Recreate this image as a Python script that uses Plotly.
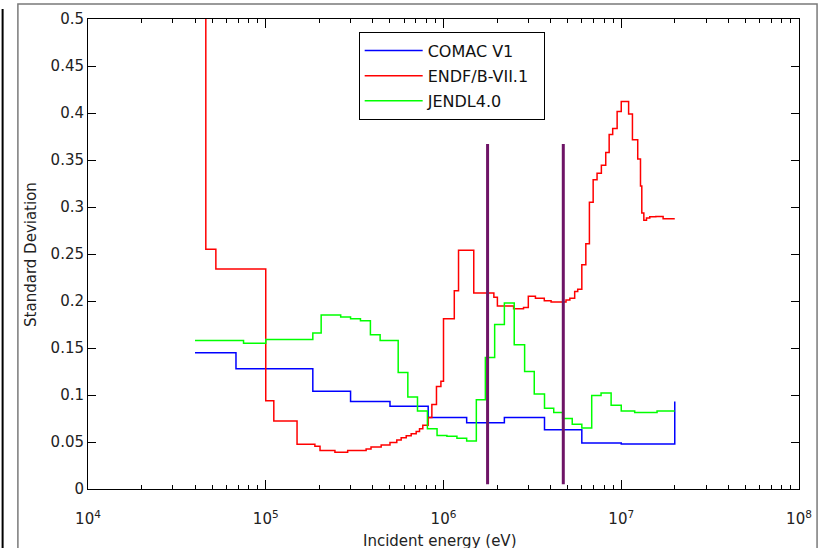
import plotly.graph_objects as go

# ---- data ----
comac_energy = [4.0e4, 6.8e4, 1.84e5, 3.0e5, 5.0e5, 8.2e5, 1.35e6, 2.2e6, 3.7e6, 6.0e6, 1.0e7, 2.0e7]
comac_std = [0.145, 0.128, 0.104, 0.093, 0.088, 0.076, 0.0705, 0.076, 0.063, 0.049, 0.048, 0.093]

endf_energy = [4.0e4, 4.6e4, 5.24e4, 1.0e5, 1.11e5, 1.5e5, 1.89e5, 2.02e5, 2.45e5, 2.89e5,
               3.67e5, 3.91e5, 4.46e5, 5.0e5, 5.46e5, 5.78e5, 6.17e5, 6.58e5, 7.02e5, 7.33e5,
               7.65e5, 8.2e5, 8.6e5, 9.13e5, 9.67e5, 1.0e6, 1.15e6, 1.215e6, 1.48e6, 1.92e6,
               2.01e6, 2.48e6, 2.82e6, 3.0e6, 3.29e6, 3.69e6, 4.03e6, 4.89e6, 5.14e6, 5.47e6,
               5.69e6, 6.0e6, 6.32e6, 6.62e6, 6.95e6, 7.31e6, 7.73e6, 8.18e6, 8.55e6, 8.95e6,
               9.48e6, 1.0e7, 1.1e7, 1.156e7, 1.238e7, 1.283e7, 1.305e7, 1.34e7, 1.387e7, 1.447e7,
               1.565e7, 1.72e7, 2.0e7]
endf_std = [0.6, 0.255, 0.234, 0.094, 0.0723, 0.0475, 0.0455, 0.041, 0.039, 0.041,
            0.0425, 0.0447, 0.0468, 0.0496, 0.052, 0.0546, 0.0567, 0.0588, 0.0613, 0.064,
            0.0677, 0.076, 0.090, 0.109, 0.1145, 0.181, 0.211, 0.254, 0.2085, 0.204,
            0.1947, 0.1918, 0.1932, 0.205, 0.2028, 0.2003, 0.199, 0.201, 0.203, 0.21,
            0.2126, 0.2386, 0.261, 0.305, 0.329, 0.336, 0.3443, 0.358, 0.377, 0.3836,
            0.4017, 0.4123, 0.399, 0.3716, 0.351, 0.3223, 0.2936, 0.286, 0.2883, 0.2897,
            0.29, 0.2876, 0.2876]

jendl_energy = [4.0e4, 7.5e4, 1.0e5, 1.84e5, 2.05e5, 2.64e5, 3.0e5, 3.41e5, 3.88e5, 4.4e5,
                5.56e5, 6.3e5, 7.14e5, 8.12e5, 9.2e5, 1.045e6, 1.19e6, 1.35e6, 1.53e6, 1.72e6,
                1.94e6, 2.2e6, 2.5e6, 2.86e6, 3.24e6, 3.7e6, 4.17e6, 4.68e6, 5.3e6, 6.0e6,
                6.82e6, 7.7e6, 8.77e6, 1.0e7, 1.19e7, 1.59e7, 2.0e7]
jendl_std = [0.158, 0.155, 0.159, 0.166, 0.185, 0.183, 0.181, 0.179, 0.164, 0.158,
             0.124, 0.098, 0.083, 0.064, 0.057, 0.056, 0.054, 0.051, 0.095, 0.140,
             0.175, 0.198, 0.1535, 0.125, 0.101, 0.086, 0.0815, 0.075, 0.069, 0.065,
             0.0996, 0.102, 0.089, 0.083, 0.0815, 0.083, 0.083]

marker_energies = [1.77e6, 4.72e6]
marker_span = [0.005, 0.367]

x_tickvals = [1e4, 1e5, 1e6, 1e7, 1e8]
x_ticktext = ["10<sup>4</sup>", "10<sup>5</sup>", "10<sup>6</sup>", "10<sup>7</sup>", "10<sup>8</sup>"]
x_minor = [m * 10 ** d for d in range(4, 8) for m in range(2, 10)]
y_tickvals = [0, 0.05, 0.1, 0.15, 0.2, 0.25, 0.3, 0.35, 0.4, 0.45, 0.5]
y_ticktext = ["0", "0.05", "0.1", "0.15", "0.2", "0.25", "0.3", "0.35", "0.4", "0.45", "0.5"]

series_names = ["COMAC V1", "ENDF/B-VII.1", "JENDL4.0"]

FONT = "DejaVu Sans"

def lab(s, pad=""):
    return '<span style="font-size:16px">' + s + pad + '</span>'

fig = go.Figure()
fig.add_trace(go.Scatter(x=comac_energy, y=comac_std, mode="lines", line_shape="hv",
                         line=dict(color="#0000FF", width=1.5), name=lab(series_names[0])))
fig.add_trace(go.Scatter(x=endf_energy, y=endf_std, mode="lines", line_shape="hv",
                         line=dict(color="#FF0000", width=1.5),
                         name=lab(series_names[1], "&nbsp;&nbsp;")))
fig.add_trace(go.Scatter(x=jendl_energy, y=jendl_std, mode="lines", line_shape="hv",
                         line=dict(color="#00FF00", width=1.5), name=lab(series_names[2])))
for e in marker_energies:
    fig.add_trace(go.Scatter(x=[e, e], y=marker_span, mode="lines",
                             line=dict(color="#6E1466", width=3), showlegend=False,
                             hoverinfo="skip"))

axis_common = dict(showline=True, linecolor="black", linewidth=1, mirror="ticks",
                   ticks="inside", tickcolor="black", showgrid=False, zeroline=False,
                   tickfont=dict(family=FONT, size=15, color="#222222"))

fig.update_xaxes(type="log", range=[4, 8], tickmode="array", tickvals=x_tickvals,
                 ticktext=x_ticktext, ticklen=9, ticklabelstandoff=16,
                 minor=dict(tickmode="array", tickvals=x_minor, ticks="inside",
                            ticklen=4, tickcolor="black"),
                 **axis_common)
fig.update_yaxes(range=[0, 0.5], tickmode="array", tickvals=y_tickvals,
                 ticktext=y_ticktext, ticklen=8, **axis_common)

# outer window frame
fig.add_shape(type="rect", xref="paper", yref="paper", x0=-0.0986, x1=1.0254,
              y0=-0.2, y1=1.0319, line=dict(color="#7a7a7a", width=1.5), layer="below")
fig.add_shape(type="line", xref="paper", yref="paper", x0=-0.1201, x1=-0.1201,
              y0=-0.2, y1=1.0213, line=dict(color="black", width=2))

fig.add_annotation(text="Incident energy (eV)", xref="paper", yref="paper", x=0.495,
                   y=-0.088, xanchor="center", yanchor="top", showarrow=False,
                   font=dict(family=FONT, size=15, color="#222222"))
fig.add_annotation(text="Standard Deviation", xref="paper", yref="paper", x=-0.0803,
                   y=0.5, xanchor="center", yanchor="middle", textangle=-90, showarrow=False,
                   font=dict(family=FONT, size=15, color="#222222"))

fig.update_layout(
    width=819, height=548,
    margin=dict(l=88, r=20, t=19, b=59, autoexpand=False),
    paper_bgcolor="white", plot_bgcolor="white",
    legend=dict(x=0.3807, y=0.9723, xanchor="left", yanchor="top",
                bgcolor="white", bordercolor="black", borderwidth=1,
                font=dict(family=FONT, size=17, color="#111111"), itemwidth=58,
                tracegroupgap=0),
    showlegend=True,
)

fig.write_html("out.html", config={"displayModeBar": False},
               post_script="document.body.style.margin='0';document.body.style.overflow='hidden';")
